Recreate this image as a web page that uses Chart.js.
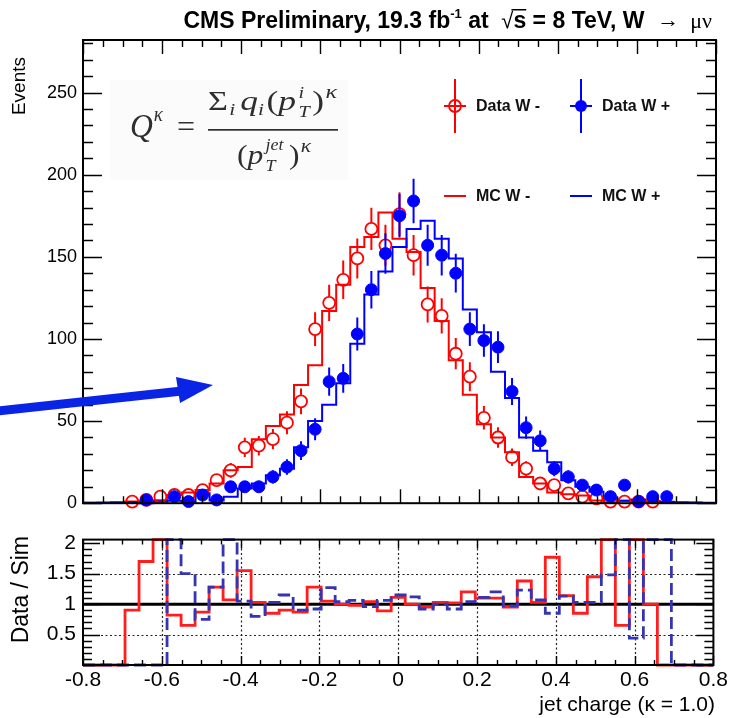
<!DOCTYPE html>
<html>
<head>
<meta charset="utf-8">
<script src="https://cdn.jsdelivr.net/npm/chart.js@4/dist/chart.umd.min.js"></script>
<style>
  html, body { margin: 0; padding: 0; background: #fff; }
  #wrap { position: relative; width: 731px; height: 718px; overflow: hidden; }
  #main { position: absolute; left: 0; top: 0; }
  #ratio { position: absolute; left: 0; top: 520px; }
</style>
</head>
<body>
<div id="wrap">
  <canvas id="main" width="731" height="520"></canvas>
  <canvas id="ratio" width="731" height="198"></canvas>
</div>
<script>
// ---------------- binning of the jet charge ----------------
const xMin = -0.8, xMax = 0.8, nBins = 45;

// ---------------- events per bin (null = empty bin) ----------------
const dataWminus = [null, null, null, 1, 2, 4, 5, 5, 8, 14, 20, 34, 35, 39, 49, 62, 106, 122, 136, 149, 167, 157, 176,
  151, 121, 114, 91, 77, 52, 40, 28, 21, 12, 11, 6, 4, 3, 1, 1, 1, 1, null, null, null, null];
const errWminus = [null, null, null, 1, 1.4, 2, 2.2, 2.2, 2.8, 3.7, 4.5, 5.8, 5.9, 6.2, 7, 7.9, 10.3, 11, 11.7, 12.2, 12.9, 12.5, 13.3,
  12.3, 11, 10.7, 9.5, 8.8, 7.2, 6.3, 5.3, 4.6, 3.5, 3.3, 2.4, 2, 1.7, 1, 1, 1, 1, null, null, null, null];

const dataWplus = [null, null, null, null, 2, null, 4, 1, 5, 2, 10, 10, 10, 16, 22, 32, 45, 74, 76, 103, 130, 152, 175,
  184, 157, 151, 140, 106, 99, 95, 68, 46, 38, 21, 16, 11, 8, 4, 11, 1, 4, 4, null, null, null];
const errWplus = [null, null, null, null, 1.4, null, 2, 1, 2.2, 1.4, 3.2, 3.2, 3.2, 4, 4.7, 5.7, 6.7, 8.6, 8.7, 10.1, 11.4, 12.3, 13.2,
  13.6, 12.5, 12.3, 11.8, 10.3, 9.9, 9.7, 8.2, 6.8, 6.2, 4.6, 4, 3.3, 2.8, 2, 3.3, 1, 2, 2, null, null, null];

// ---------------- simulation per bin ----------------
const mcWminus = [0.3, 0.4, 0.6, 1.1, 1.2, 1.8, 5, 6.5, 8, 12, 20, 22, 39, 47, 54, 72, 84, 117, 133, 156, 162, 177, 161,
  153, 131, 111, 87, 66, 48, 40, 31, 16, 12, 6.5, 5.5, 4.7, 1.7, 0.5, 1.5, 0.4, 1.0, 0.5, 0.3, 0.2, 0.1];
const mcWplus = [0.2, 0.3, 0.4, 0.6, 0, 1.1, 1.5, 0.7, 6, 1.6, 4, 9, 12, 17, 21, 34, 50, 60, 73, 97, 127, 141, 156,
  167, 172, 161, 149, 118, 104, 80, 64, 40, 32, 25, 14, 10, 7, 2.7, 1.5, 2.3, 1.2, 0.9, 0.6, 0.4, 0.3];

// ---------------- data / simulation per bin ----------------
const ratioWminus = [0, 0, 0, 0.9, 1.7, 2.3, 0.82, 0.65, 0.87, 1.28, 1.07, 1.55, 1.03, 0.85, 0.9, 0.87, 1.28, 1.05, 1.0, 0.98, 1.04, 0.89, 1.11,
  1.0, 0.95, 1.03, 1.02, 1.2, 1.1, 1.1, 0.95, 1.38, 1.03, 1.77, 1.14, 0.85, 1.45, 2.3, 0.65, 2.3, 1.0, 0, 0, 0, 0];
const ratioWplus = [0, 0, 0, 0, 0, 0, 2.3, 1.5, 0.75, 1.28, 2.3, 1.05, 0.8, 1.03, 1.15, 0.9, 0.92, 1.27, 1.04, 1.06, 0.96, 1.06, 1.15,
  1.12, 0.92, 1.0, 0.92, 1.04, 1.11, 1.2, 0.97, 1.23, 1.07, 0.85, 1.13, 1.03, 1.03, 1.48, 2.3, 0.44, 2.3, 2.3, 0, 0, 0];

// ---------------- axis ticks and labels ----------------
const eventTicks = [0, 50, 100, 150, 200, 250];
const eventTickLabels = ['0', '50', '100', '150', '200', '250'];
const ratioTicks = [0.5, 1, 1.5, 2];
const ratioTickLabels = ['0.5', '1', '1.5', '2'];
const chargeTicks = [-0.8, -0.6, -0.4, -0.2, 0, 0.2, 0.4, 0.6, 0.8];
const chargeTickLabels = ['-0.8', '-0.6', '-0.4', '-0.2', '0', '0.2', '0.4', '0.6', '0.8'];
const legendLabels = ['Data W -', 'Data W +', 'MC W -', 'MC W +'];

const eventsMax = 282;
const ratioMax = 2.06;

// ---------------- styling ----------------
const RED = '#ff0000';
const BLUE = '#0000ff';
const RATIO_RED = '#ff1e1e';
const RATIO_BLUE = '#3535b2';
const ARROW = '#0a24e6';
const SANS = '"Liberation Sans", Arial, Helvetica, sans-serif';
const SERIF = '"Liberation Serif", "DejaVu Serif", serif';

const binWidth = (xMax - xMin) / nBins;
const binEdges = Array.from({ length: nBins + 1 }, (_, i) => xMin + i * binWidth);
const binCenters = Array.from({ length: nBins }, (_, i) => xMin + (i + 0.5) * binWidth);

// histogram outline: one point per lower bin edge plus the final upper edge
function histPoints(values, cap) {
  const pts = values.map((v, i) => ({ x: binEdges[i], y: cap === undefined ? v : Math.min(v, cap) }));
  pts.push({ x: binEdges[nBins], y: pts[nBins - 1].y });
  return pts;
}
function dataPoints(values, errs) {
  const pts = [];
  values.forEach((v, i) => { if (v !== null) pts.push({ x: binCenters[i], y: v, err: errs[i] }); });
  return pts;
}

// vertical statistical error bars, stopping at the marker edge
const errorBars = {
  id: 'errorBars',
  beforeDatasetDraw(chart, args) {
    const ds = chart.data.datasets[args.index];
    if (!ds.errorBars) return;
    const { ctx } = chart;
    const y = chart.scales.y;
    const r = ds.pointRadius;
    ctx.save();
    ctx.strokeStyle = ds.borderColor;
    ctx.lineWidth = 2;
    ctx.beginPath();
    args.meta.data.forEach((pt, i) => {
      const raw = ds.data[i];
      const top = y.getPixelForValue(raw.y + raw.err);
      const bot = y.getPixelForValue(Math.max(raw.y - raw.err, y.min));
      if (top < pt.y - r) { ctx.moveTo(pt.x, pt.y - r); ctx.lineTo(pt.x, top); }
      if (bot > pt.y + r) { ctx.moveTo(pt.x, pt.y + r); ctx.lineTo(pt.x, bot); }
    });
    ctx.stroke();
    ctx.restore();
  }
};

// frame with inward ticks on all four sides
function drawFrame(chart, spec) {
  const { ctx, chartArea: a } = chart;
  const xs = chart.scales.x, ys = chart.scales.y;
  ctx.save();
  ctx.strokeStyle = '#000';
  ctx.lineWidth = 1.4;
  ctx.beginPath();
  const nx = Math.round((xMax - xMin) / spec.xMinor);
  for (let k = 0; k <= nx; k++) {
    const v = xMin + k * spec.xMinor;
    const q = v / spec.xMajor;
    const major = Math.abs(q - Math.round(q)) < 1e-6;
    const len = major ? spec.xMajorLen : spec.xMinorLen;
    const px = Math.round(xs.getPixelForValue(v)) + 0.5;
    ctx.moveTo(px, a.bottom); ctx.lineTo(px, a.bottom - len);
    ctx.moveTo(px, a.top); ctx.lineTo(px, a.top + len);
  }
  const ny = Math.floor(ys.max / spec.yMinor + 1e-6);
  for (let k = 0; k <= ny; k++) {
    const v = k * spec.yMinor;
    const q = v / spec.yMajor;
    const major = Math.abs(q - Math.round(q)) < 1e-6;
    const len = major ? spec.yMajorLen : spec.yMinorLen;
    const py = Math.round(ys.getPixelForValue(v)) + 0.5;
    ctx.moveTo(a.left, py); ctx.lineTo(a.left + len, py);
    ctx.moveTo(a.right, py); ctx.lineTo(a.right - len, py);
  }
  ctx.stroke();
  ctx.lineWidth = 2;
  ctx.strokeRect(a.left, a.top, a.right - a.left, a.bottom - a.top);
  ctx.restore();
}

function drawTitle(ctx) {
  const b = s => `bold ${s}px ${SANS}`;
  const parts = [
    { t: 'CMS Preliminary, 19.3 fb', f: b(23), dy: 0 },
    { t: '-1', f: b(13), dy: -10 },
    { t: ' at  ', f: b(23), dy: 0 },
    { t: '\u221A', f: `22px ${SANS}`, dy: 0 },
    { t: 's', f: b(23), dy: 0, bar: true },
    { t: ' = 8 TeV, W  ', f: b(23), dy: 0 },
    { t: '\u2192', f: `22px ${SANS}`, dy: -1 },
    { t: '  \u03BC\u03BD', f: `22px ${SERIF}`, dy: 0 }
  ];
  let total = 0;
  parts.forEach(p => { ctx.font = p.f; p.w = ctx.measureText(p.t).width; total += p.w; });
  let x = 712 - total;
  const base = 28;
  ctx.save();
  ctx.fillStyle = '#000';
  ctx.textBaseline = 'alphabetic';
  parts.forEach(p => {
    ctx.font = p.f;
    ctx.fillText(p.t, x, base + p.dy);
    if (p.bar) { ctx.fillRect(x - 2, base - 19, p.w + 2, 1.5); }
    x += p.w;
  });
  ctx.restore();
}

// a run of formula glyphs, squeezed or stretched to a given width
function formulaRun(ctx, pieces, x0, width) {
  let w = 0;
  pieces.forEach(p => { ctx.font = p.f; w += (p.gap || 0) + (p.keep ? 0 : ctx.measureText(p.t).width); });
  ctx.save();
  ctx.translate(x0, 0);
  ctx.scale(width / w, 1);
  let x = 0;
  pieces.forEach(p => {
    x += p.gap || 0;
    ctx.font = p.f;
    ctx.fillText(p.t, x, p.y);
    if (!p.keep) x += ctx.measureText(p.t).width;
  });
  ctx.restore();
}

function drawFormula(ctx) {
  ctx.save();
  ctx.fillStyle = 'rgba(0,0,0,0.016)';
  ctx.fillRect(110, 80, 238, 100);
  ctx.fillStyle = '#2e2e2e';
  ctx.textBaseline = 'alphabetic';
  const it = s => `italic ${s}px ${SERIF}`;
  const rm = s => `${s}px ${SERIF}`;
  formulaRun(ctx, [
    { t: 'Q', f: it(33), y: 137 },
    { t: '\u03BA', f: it(20), y: 121, gap: 1 }
  ], 130, 33);
  ctx.font = rm(32);
  ctx.fillText('=', 177, 137);
  // numerator
  formulaRun(ctx, [
    { t: '\u03A3', f: rm(27), y: 110 },
    { t: 'i', f: it(17), y: 115, gap: 1 },
    { t: 'q', f: it(28), y: 110, gap: 4 },
    { t: 'i', f: it(17), y: 115 },
    { t: '(', f: rm(28), y: 110, gap: 2 },
    { t: 'p', f: it(28), y: 110 },
    { t: 'i', f: it(16), y: 98, gap: 2, keep: true },
    { t: 'T', f: it(16), y: 117 },
    { t: ')', f: rm(28), y: 110, gap: 2 },
    { t: '\u03BA', f: it(19), y: 98, gap: 1 }
  ], 208, 129);
  // fraction bar
  ctx.fillRect(208, 129, 130, 1.7);
  // denominator
  formulaRun(ctx, [
    { t: '(', f: rm(28), y: 164 },
    { t: 'p', f: it(28), y: 164 },
    { t: 'jet', f: it(16), y: 150, gap: 2, keep: true },
    { t: 'T', f: it(16), y: 171 },
    { t: ')', f: rm(28), y: 164, gap: 12 },
    { t: '\u03BA', f: it(19), y: 152, gap: 1 }
  ], 237, 74);
  ctx.restore();
}

function drawLegend(ctx) {
  ctx.save();
  ctx.lineWidth = 2;
  const dataItems = [
    { label: legendLabels[0], cx: 455, color: RED, filled: false },
    { label: legendLabels[1], cx: 581, color: BLUE, filled: true }
  ];
  dataItems.forEach(it => {
    const cy = 106;
    ctx.strokeStyle = it.color;
    ctx.beginPath();
    ctx.moveTo(it.cx, cy - 27); ctx.lineTo(it.cx, cy + 27);
    ctx.moveTo(it.cx - 11, cy); ctx.lineTo(it.cx + 11, cy);
    ctx.stroke();
    ctx.beginPath();
    ctx.arc(it.cx, cy, 6, 0, Math.PI * 2);
    if (it.filled) { ctx.fillStyle = it.color; ctx.fill(); }
    else { ctx.lineWidth = 1.8; ctx.stroke(); ctx.lineWidth = 2; }
    ctx.fillStyle = '#111';
    ctx.font = `bold 16px ${SANS}`;
    ctx.textBaseline = 'middle';
    ctx.fillText(it.label, it.cx + 21, cy + 1);
  });
  const mcItems = [
    { label: legendLabels[2], cx: 455, color: RED },
    { label: legendLabels[3], cx: 581, color: BLUE }
  ];
  mcItems.forEach(it => {
    const cy = 196;
    ctx.strokeStyle = it.color;
    ctx.beginPath();
    ctx.moveTo(it.cx - 11, cy); ctx.lineTo(it.cx + 11, cy);
    ctx.stroke();
    ctx.fillStyle = '#111';
    ctx.font = `bold 16px ${SANS}`;
    ctx.textBaseline = 'middle';
    ctx.fillText(it.label, it.cx + 21, cy + 1);
  });
  ctx.restore();
}

function drawArrow(ctx) {
  ctx.save();
  ctx.strokeStyle = ARROW;
  ctx.fillStyle = ARROW;
  ctx.lineWidth = 9;
  ctx.beginPath();
  ctx.moveTo(-2, 411);
  ctx.lineTo(182, 391);
  ctx.stroke();
  ctx.beginPath();
  ctx.moveTo(213, 385);
  ctx.lineTo(176, 377);
  ctx.lineTo(180, 403);
  ctx.closePath();
  ctx.fill();
  ctx.restore();
}

function rotatedText(ctx, text, font, x, y, align) {
  ctx.save();
  ctx.translate(x, y);
  ctx.rotate(-Math.PI / 2);
  ctx.font = font;
  ctx.fillStyle = '#000';
  ctx.textAlign = align;
  ctx.textBaseline = 'middle';
  ctx.fillText(text, 0, 0);
  ctx.restore();
}

const mainDecor = {
  id: 'mainDecor',
  afterDatasetsDraw(chart) {
    drawFrame(chart, { xMinor: 0.05, xMajor: 0.2, xMajorLen: 14, xMinorLen: 7,
                       yMinor: 10, yMajor: 50, yMajorLen: 19, yMinorLen: 10 });
  },
  afterDraw(chart) {
    const ctx = chart.ctx;
    drawFormula(ctx);
    drawLegend(ctx);
    drawTitle(ctx);
    drawArrow(ctx);
    rotatedText(ctx, 'Events', `19px ${SANS}`, 20, 57, 'right');
  }
};

const ratioDecor = {
  id: 'ratioDecor',
  beforeDatasetsDraw(chart) {
    const { ctx, chartArea: a } = chart;
    const xs = chart.scales.x, ys = chart.scales.y;
    ctx.save();
    ctx.strokeStyle = '#222';
    ctx.lineWidth = 1.2;
    ctx.setLineDash([2, 2.5]);
    ctx.beginPath();
    chargeTicks.forEach(v => {
      if (v <= xMin || v >= xMax) return;
      const px = Math.round(xs.getPixelForValue(v)) + 0.5;
      ctx.moveTo(px, a.top); ctx.lineTo(px, a.bottom);
    });
    [0.5, 1.5].forEach(v => {
      const py = Math.round(ys.getPixelForValue(v)) + 0.5;
      ctx.moveTo(a.left, py); ctx.lineTo(a.right, py);
    });
    ctx.stroke();
    ctx.setLineDash([]);
    ctx.strokeStyle = '#000';
    ctx.lineWidth = 3;
    const p1 = ys.getPixelForValue(1);
    ctx.beginPath();
    ctx.moveTo(a.left, p1); ctx.lineTo(a.right, p1);
    ctx.stroke();
    ctx.restore();
  },
  afterDatasetsDraw(chart) {
    drawFrame(chart, { xMinor: 0.05, xMajor: 0.2, xMajorLen: 9, xMinorLen: 5,
                       yMinor: 0.1, yMajor: 0.5, yMajorLen: 17, yMinorLen: 9 });
  },
  afterDraw(chart) {
    const ctx = chart.ctx;
    rotatedText(ctx, 'Data / Sim', `23px ${SANS}`, 22, 16, 'right');
    ctx.save();
    ctx.font = `21px ${SANS}`;
    ctx.fillStyle = '#000';
    ctx.textAlign = 'right';
    ctx.textBaseline = 'middle';
    ctx.fillText('jet charge (\u03BA = 1.0)', 715, 185);
    ctx.restore();
  }
};

Chart.defaults.font.family = SANS;
Chart.defaults.color = '#000';

new Chart(document.getElementById('main'), {
  type: 'scatter',
  data: {
    datasets: [
      { label: legendLabels[1], data: dataPoints(dataWplus, errWplus), errorBars: true,
        pointRadius: 6, pointHoverRadius: 6, pointBackgroundColor: BLUE, pointBorderColor: BLUE,
        borderColor: BLUE, pointBorderWidth: 1, clip: false, order: 0 },
      { label: legendLabels[0], data: dataPoints(dataWminus, errWminus), errorBars: true,
        pointRadius: 6, pointHoverRadius: 6, pointBackgroundColor: 'rgba(0,0,0,0)', pointBorderColor: RED,
        borderColor: RED, pointBorderWidth: 1.8, clip: false, order: 1 },
      { type: 'line', label: legendLabels[3], data: histPoints(mcWplus), stepped: 'before',
        borderColor: BLUE, borderWidth: 2, pointRadius: 0, fill: false, clip: 2, order: 2 },
      { type: 'line', label: legendLabels[2], data: histPoints(mcWminus), stepped: 'before',
        borderColor: RED, borderWidth: 2, pointRadius: 0, fill: false, clip: 2, order: 3 }
    ]
  },
  options: {
    responsive: false, animation: false, devicePixelRatio: 1, events: [],
    layout: { padding: { top: 40, right: 15, bottom: 10, left: 0 }, autoPadding: false },
    plugins: { legend: { display: false }, tooltip: { enabled: false } },
    scales: {
      x: { type: 'linear', min: xMin, max: xMax, display: false },
      y: {
        type: 'linear', min: 0, max: eventsMax,
        grid: { display: false, drawTicks: false }, border: { display: false },
        afterBuildTicks: s => { s.ticks = eventTicks.map(v => ({ value: v })); },
        afterFit: s => { s.width = 83; },
        ticks: { font: { family: SANS, size: 18 }, color: '#000', padding: 6,
                 callback: (v, i) => eventTickLabels[i] }
      }
    }
  },
  plugins: [errorBars, mainDecor]
});

new Chart(document.getElementById('ratio'), {
  type: 'scatter',
  data: {
    datasets: [
      { type: 'line', label: legendLabels[1], data: histPoints(ratioWplus, ratioMax), stepped: 'before',
        borderColor: RATIO_BLUE, borderWidth: 2.8, borderDash: [12, 5], pointRadius: 0, fill: false, clip: 4, order: 0 },
      { type: 'line', label: legendLabels[0], data: histPoints(ratioWminus, ratioMax), stepped: 'before',
        borderColor: RATIO_RED, borderWidth: 2.8, pointRadius: 0, fill: false, clip: 4, order: 1 }
    ]
  },
  options: {
    responsive: false, animation: false, devicePixelRatio: 1, events: [],
    layout: { padding: { top: 11, right: 15, bottom: 0, left: 0 }, autoPadding: false },
    plugins: { legend: { display: false }, tooltip: { enabled: false } },
    scales: {
      x: {
        type: 'linear', min: xMin, max: xMax,
        grid: { display: false, drawTicks: false }, border: { display: false },
        afterBuildTicks: s => { s.ticks = chargeTicks.map(v => ({ value: v })); },
        afterFit: s => { s.height = 53; },
        ticks: { font: { family: SANS, size: 21 }, color: '#000', padding: 3, maxRotation: 0, minRotation: 0,
                 autoSkip: false, callback: (v, i) => chargeTickLabels[i] }
      },
      y: {
        type: 'linear', min: 0, max: ratioMax,
        grid: { display: false, drawTicks: false }, border: { display: false },
        afterBuildTicks: s => { s.ticks = ratioTicks.map(v => ({ value: v })); },
        afterFit: s => { s.width = 83; },
        ticks: { font: { family: SANS, size: 21 }, color: '#000', padding: 7,
                 callback: (v, i) => ratioTickLabels[i] }
      }
    }
  },
  plugins: [ratioDecor]
});
</script>
</body>
</html>
